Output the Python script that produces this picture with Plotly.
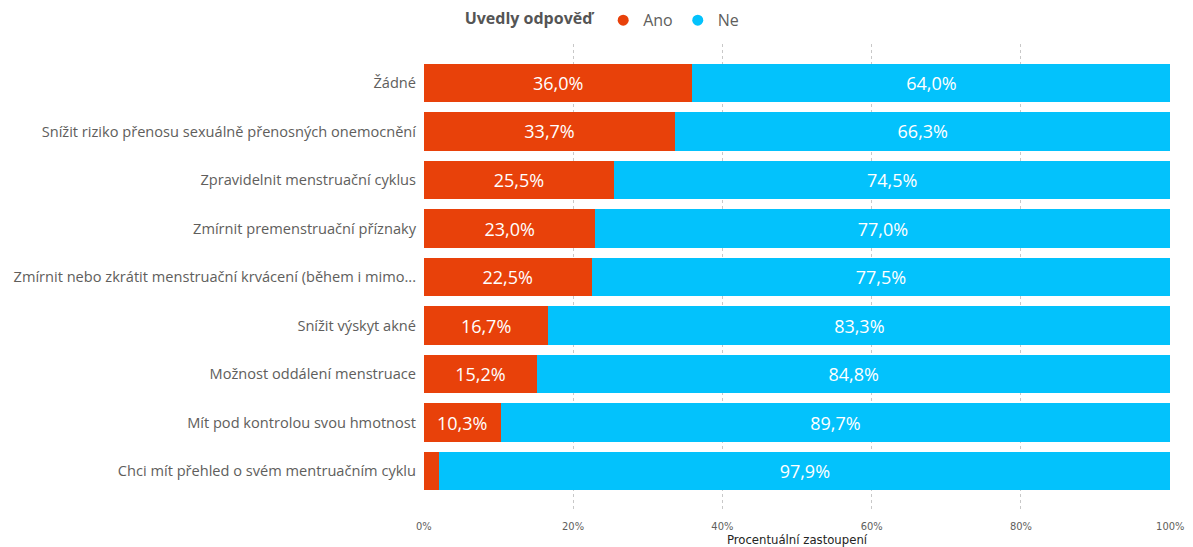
import plotly.graph_objects as go

# Share of respondents naming each reason (percent)
categories = [
    "Žádné",
    "Snížit riziko přenosu sexuálně přenosných onemocnění",
    "Zpravidelnit menstruační cyklus",
    "Zmírnit premenstruační příznaky",
    "Zmírnit nebo zkrátit menstruační krvácení (během i mimo...",
    "Snížit výskyt akné",
    "Možnost oddálení menstruace",
    "Mít pod kontrolou svou hmotnost",
    "Chci mít přehled o svém mentruačním cyklu",
]
ano = [36.0, 33.7, 25.5, 23.0, 22.5, 16.7, 15.2, 10.3, 2.1]
ne = [64.0, 66.3, 74.5, 77.0, 77.5, 83.3, 84.8, 89.7, 97.9]
x_ticks = [0, 20, 40, 60, 80, 100]
x_tick_labels = ["0%", "20%", "40%", "60%", "80%", "100%"]

ORANGE = "#E8410A"
BLUE = "#03C2FC"
LABEL_GREY = "#605E5C"
NARROW = "Liberation Sans Narrow, DejaVu Sans Condensed, Roboto, sans-serif"

def fmt(v, min_show=5):
    return ("%.1f%%" % v).replace(".", ",") if v >= min_show else ""

fig = go.Figure()
for name, vals, color in (("Ano", ano, ORANGE), ("Ne", ne, BLUE)):
    fig.add_trace(go.Bar(
        y=categories, x=vals, name=name, orientation="h",
        marker=dict(color=color, line=dict(width=0)),
        text=[fmt(v) for v in vals], textposition="inside",
        insidetextanchor="middle",
        textfont=dict(color="white", size=18, family="Open Sans, sans-serif"),
        hovertemplate="%{y}: %{x}%<extra>" + name + "</extra>",
        showlegend=False, legendgroup=name,
    ))
    # round legend marker for the series
    fig.add_trace(go.Scatter(
        x=[None], y=[None], mode="markers", name=name, legendgroup=name,
        marker=dict(symbol="circle", size=11, color=color),
        hoverinfo="skip",
    ))

fig.update_layout(
    barmode="stack",
    bargap=0.216,
    width=1193, height=547,
    margin=dict(l=423, r=22, t=44, b=37),
    paper_bgcolor="white", plot_bgcolor="white",
    separators=", ",
    font=dict(family="Open Sans, sans-serif", color=LABEL_GREY),
    legend=dict(
        orientation="h", x=0.506, xanchor="center", xref="container",
        y=0.963, yanchor="middle", yref="container",
        title=dict(text="<b>Uvedly odpověď</b>",
                   font=dict(size=16, color="#555555")),
        font=dict(size=16, color=LABEL_GREY),
        itemwidth=30, tracegroupgap=0,
        traceorder="normal",
    ),
    uniformtext=dict(mode="show", minsize=10),
)
fig.update_xaxes(
    range=[-0.1, 100.1], tickvals=x_ticks, ticktext=x_tick_labels,
    showgrid=True, gridcolor="#C8C8C8", griddash="dot", gridwidth=1,
    zeroline=False, showline=False, automargin=False,
    ticks="outside", ticklen=6, tickcolor="rgba(0,0,0,0)",
    tickfont=dict(size=11, color=LABEL_GREY, family=NARROW),
    title=dict(text="Procentuální zastoupení", standoff=4,
               font=dict(size=13, color="#252423", family=NARROW)),
    fixedrange=True,
)
fig.update_yaxes(
    categoryorder="array", categoryarray=categories,
    range=[8.804, -0.804], showgrid=False, zeroline=False, automargin=False,
    tickfont=dict(size=14.6, color=LABEL_GREY),
    ticklabelstandoff=6, fixedrange=True,
)

fig.write_html("out.html")
